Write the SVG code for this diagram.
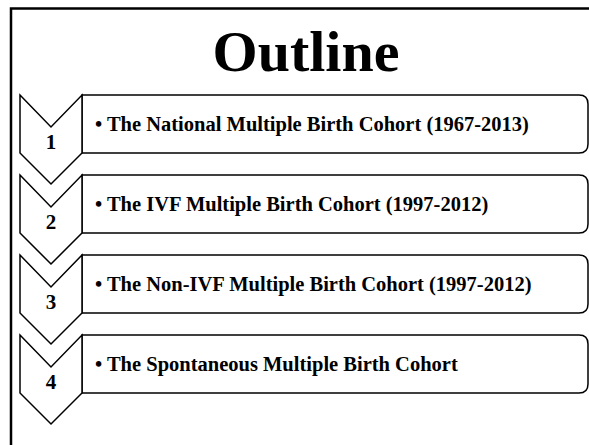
<svg xmlns="http://www.w3.org/2000/svg" width="589" height="445" viewBox="0 0 589 445">
<style>
.frame{fill:none;stroke:#000;stroke-width:2.5}
.chev,.box{fill:#fff;stroke:#000;stroke-width:1.5;stroke-linejoin:miter}
.num{font-family:"Liberation Serif","Times New Roman",serif;font-weight:bold;font-size:21px;text-anchor:middle;fill:#000}
.item{font-family:"Liberation Serif","Times New Roman",serif;font-weight:bold;font-size:20.5px;fill:#000}
.title{font-family:"Liberation Serif","Times New Roman",serif;font-weight:bold;font-size:58px;text-anchor:middle;fill:#000}
</style>
<rect width="589" height="445" fill="#fff"/>
<rect class="frame" x="11" y="8.5" width="700" height="600"/>
<g id="title"><text class="title" x="306" y="71">Outline</text></g>
<g id="item1">
<path class="box" d="M82,95 H579 Q588,95 588,104 V144 Q588,153 579,153 H82 Z"/>
<path class="chev" d="M20,95 L51,127 L82,95 V153 L51,184 L20,153 Z"/>
<text class="num" x="51" y="149">1</text>
<text class="item" x="95" y="131">• The National Multiple Birth Cohort (1967-2013)</text>
</g>
<g id="item2">
<path class="box" d="M82,175 H579 Q588,175 588,184 V224 Q588,233 579,233 H82 Z"/>
<path class="chev" d="M20,175 L51,207 L82,175 V233 L51,264 L20,233 Z"/>
<text class="num" x="51" y="229">2</text>
<text class="item" x="95" y="211">• The IVF Multiple Birth Cohort (1997-2012)</text>
</g>
<g id="item3">
<path class="box" d="M82,255 H579 Q588,255 588,264 V304 Q588,313 579,313 H82 Z"/>
<path class="chev" d="M20,255 L51,287 L82,255 V313 L51,344 L20,313 Z"/>
<text class="num" x="51" y="309">3</text>
<text class="item" x="95" y="291">• The Non-IVF Multiple Birth Cohort (1997-2012)</text>
</g>
<g id="item4">
<path class="box" d="M82,335 H579 Q588,335 588,344 V384 Q588,393 579,393 H82 Z"/>
<path class="chev" d="M20,335 L51,367 L82,335 V393 L51,424 L20,393 Z"/>
<text class="num" x="51" y="389">4</text>
<text class="item" x="95" y="371">• The Spontaneous Multiple Birth Cohort</text>
</g>
</svg>
